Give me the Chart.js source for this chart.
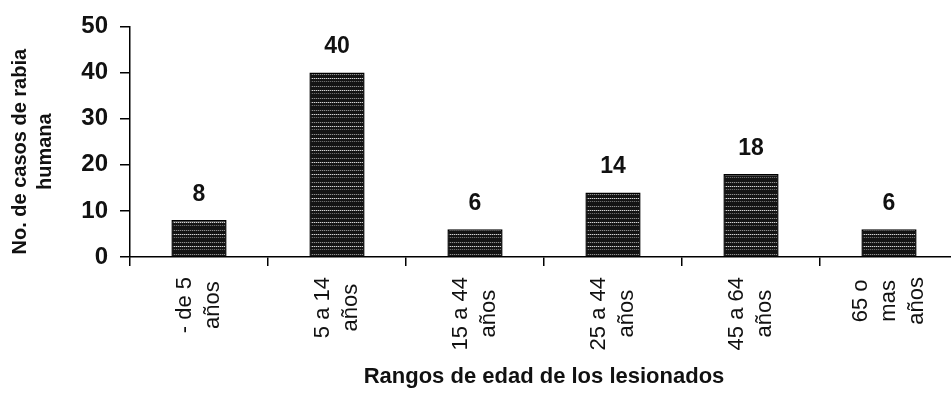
<!DOCTYPE html>
<html>
<head>
<meta charset="utf-8">
<script src="https://cdn.jsdelivr.net/npm/chart.js@4"></script>
<style>
  html, body { margin: 0; padding: 0; background: #fff; overflow: hidden; }
</style>
</head>
<body>
<canvas id="c" width="965" height="393"></canvas>
<script>
// Age groups (multi-line tick labels) and number of human rabies cases
const ageGroups = [
  ['- de 5', 'años'],
  ['5 a 14', 'años'],
  ['15 a 44', 'años'],
  ['25 a 44', 'años'],
  ['45 a 64', 'años'],
  ['65 o', 'mas', 'años']
];
const cases = [8, 40, 6, 14, 18, 6];
const yTicks = [0, 10, 20, 30, 40, 50];
const yTitle = ['No. de casos de rabia', 'humana'];
const xTitle = 'Rangos de edad de los lesionados';

const FONT = "'Liberation Sans', Arial, sans-serif";

// Dark bar fill with faint dotted horizontal streaks
function barPattern() {
  const p = document.createElement('canvas');
  p.width = 4; p.height = 12;
  const g = p.getContext('2d');
  g.fillStyle = '#141414';
  g.fillRect(0, 0, 4, 12);
  const rows = [[2, '#8e8e8e', '#333'], [6, '#d6d6d6', '#555'], [9, '#6a6a6a', '#262626']];
  rows.forEach(([y, a, b]) => {
    for (let x = 0; x < 4; x++) {
      g.fillStyle = x % 2 ? b : a;
      g.fillRect(x, y, 1, 1);
    }
  });
  return g.createPattern(p, 'repeat');
}

// Value printed above each bar
const valueLabels = {
  id: 'valueLabels',
  afterDatasetsDraw(chart) {
    const ctx = chart.ctx;
    const meta = chart.getDatasetMeta(0);
    const data = chart.data.datasets[0].data;
    ctx.save();
    ctx.font = 'bold 23px ' + FONT;
    ctx.fillStyle = '#111';
    ctx.textAlign = 'center';
    ctx.textBaseline = 'bottom';
    meta.data.forEach((bar, i) => {
      ctx.fillText(String(data[i]), bar.x, bar.y - 14);
    });
    ctx.restore();
  }
};

// Vertical category labels (lines side by side, centred on the category)
// and the two-line rotated y-axis title
const axisText = {
  id: 'axisText',
  afterDraw(chart) {
    const ctx = chart.ctx;
    const xs = chart.scales.x;
    const top = xs.top + 20;
    const lineGap = 28;
    ctx.save();
    ctx.fillStyle = '#111';
    ctx.textAlign = 'center';
    ctx.textBaseline = 'middle';

    ctx.font = '22px ' + FONT;
    chart.data.labels.forEach((lines, i) => {
      const cx = xs.getPixelForValue(i);
      const longest = Math.max(...lines.map(l => ctx.measureText(l).width));
      const cy = top + longest / 2;
      lines.forEach((line, k) => {
        const x = cx + (k - (lines.length - 1) / 2) * lineGap;
        ctx.save();
        ctx.translate(x, cy);
        ctx.rotate(-Math.PI / 2);
        ctx.fillText(line, 0, 0);
        ctx.restore();
      });
    });

    ctx.font = 'bold 20px ' + FONT;
    const ca = chart.chartArea;
    const ty = (ca.top + ca.bottom) / 2 + 10;
    yTitle.forEach((line, k) => {
      ctx.save();
      ctx.translate(20 + k * 25, ty);
      ctx.rotate(-Math.PI / 2);
      ctx.fillText(line, 0, 0);
      ctx.restore();
    });
    ctx.restore();
  }
};

new Chart(document.getElementById('c'), {
  type: 'bar',
  data: {
    labels: ageGroups,
    datasets: [{
      data: cases,
      backgroundColor: barPattern(),
      borderColor: '#000',
      borderWidth: 1.5,
      barPercentage: 0.4,
      categoryPercentage: 1.0
    }]
  },
  options: {
    responsive: false,
    animation: false,
    devicePixelRatio: 1,
    layout: { padding: { top: 24, right: 7, left: 0, bottom: 0 } },
    plugins: { legend: { display: false }, tooltip: { enabled: false } },
    scales: {
      x: {
        grid: { display: true, drawOnChartArea: false, drawTicks: true, tickLength: 9, color: '#000', lineWidth: 1.5, offset: true },
        border: { display: true, color: '#000', width: 1.5 },
        ticks: { display: false },
        title: {
          display: true,
          text: xTitle,
          color: '#111',
          font: { family: FONT, size: 22, weight: 'bold' },
          padding: { top: 4, bottom: 3 }
        },
        afterFit(scale) { scale.height = 136; }
      },
      y: {
        min: 0, max: 50,
        afterBuildTicks(scale) { scale.ticks = yTicks.map(v => ({ value: v })); },
        grid: { display: true, drawOnChartArea: false, drawTicks: true, tickLength: 10, color: '#000', lineWidth: 1.5 },
        border: { display: true, color: '#000', width: 1.5 },
        ticks: {
          color: '#111',
          font: { family: FONT, size: 24, weight: 'bold' },
          padding: 12
        },
        title: { display: false },
        afterFit(scale) { scale.width = 130; }
      }
    }
  },
  plugins: [valueLabels, axisText]
});
</script>
</body>
</html>
